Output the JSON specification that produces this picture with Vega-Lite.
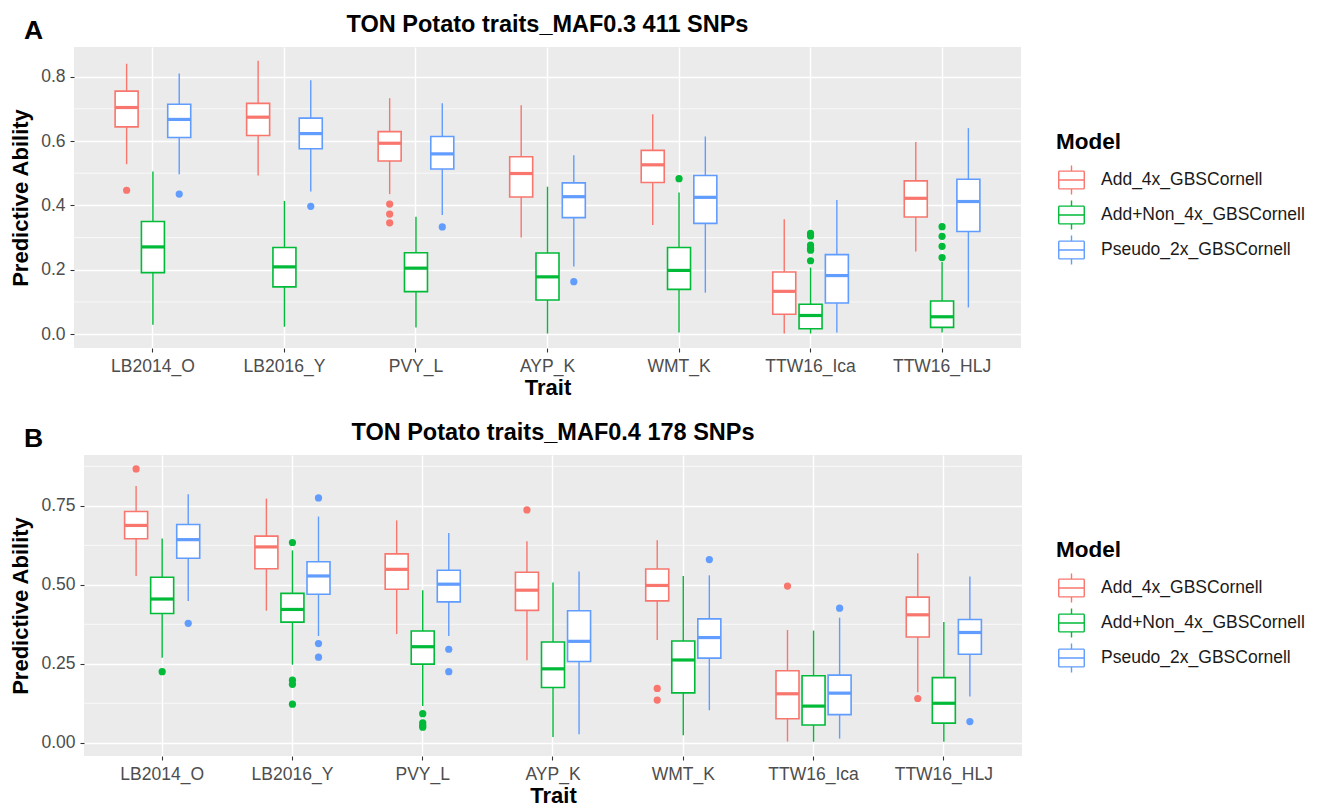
{
  "$schema": "https://vega.github.io/schema/vega-lite/v6.json",
  "padding": {"left": 8, "top": 12, "right": 5, "bottom": 2},
  "background": "white",
  "datasets": {
    "boxA": [
      {"t": "LB2014_O", "m": "Add_4x_GBSCornell", "lo": 0.528, "q1": 0.644, "med": 0.704, "q3": 0.755, "hi": 0.840},
      {"t": "LB2014_O", "m": "Add+Non_4x_GBSCornell", "lo": 0.029, "q1": 0.191, "med": 0.271, "q3": 0.350, "hi": 0.505},
      {"t": "LB2014_O", "m": "Pseudo_2x_GBSCornell", "lo": 0.497, "q1": 0.611, "med": 0.667, "q3": 0.714, "hi": 0.810},
      {"t": "LB2016_Y", "m": "Add_4x_GBSCornell", "lo": 0.493, "q1": 0.617, "med": 0.674, "q3": 0.717, "hi": 0.849},
      {"t": "LB2016_Y", "m": "Add+Non_4x_GBSCornell", "lo": 0.023, "q1": 0.147, "med": 0.209, "q3": 0.269, "hi": 0.414},
      {"t": "LB2016_Y", "m": "Pseudo_2x_GBSCornell", "lo": 0.443, "q1": 0.576, "med": 0.623, "q3": 0.671, "hi": 0.789},
      {"t": "PVY_L", "m": "Add_4x_GBSCornell", "lo": 0.435, "q1": 0.538, "med": 0.593, "q3": 0.629, "hi": 0.733},
      {"t": "PVY_L", "m": "Add+Non_4x_GBSCornell", "lo": 0.021, "q1": 0.132, "med": 0.205, "q3": 0.253, "hi": 0.365},
      {"t": "PVY_L", "m": "Pseudo_2x_GBSCornell", "lo": 0.370, "q1": 0.513, "med": 0.560, "q3": 0.614, "hi": 0.717},
      {"t": "AYP_K", "m": "Add_4x_GBSCornell", "lo": 0.300, "q1": 0.426, "med": 0.499, "q3": 0.551, "hi": 0.711},
      {"t": "AYP_K", "m": "Add+Non_4x_GBSCornell", "lo": 0.002, "q1": 0.106, "med": 0.178, "q3": 0.252, "hi": 0.458},
      {"t": "AYP_K", "m": "Pseudo_2x_GBSCornell", "lo": 0.210, "q1": 0.362, "med": 0.427, "q3": 0.470, "hi": 0.556},
      {"t": "WMT_K", "m": "Add_4x_GBSCornell", "lo": 0.339, "q1": 0.471, "med": 0.526, "q3": 0.571, "hi": 0.683},
      {"t": "WMT_K", "m": "Add+Non_4x_GBSCornell", "lo": 0.005, "q1": 0.139, "med": 0.198, "q3": 0.269, "hi": 0.440},
      {"t": "WMT_K", "m": "Pseudo_2x_GBSCornell", "lo": 0.129, "q1": 0.344, "med": 0.425, "q3": 0.493, "hi": 0.614},
      {"t": "TTW16_Ica", "m": "Add_4x_GBSCornell", "lo": 0.002, "q1": 0.062, "med": 0.133, "q3": 0.193, "hi": 0.357},
      {"t": "TTW16_Ica", "m": "Add+Non_4x_GBSCornell", "lo": 0.002, "q1": 0.017, "med": 0.058, "q3": 0.093, "hi": 0.207},
      {"t": "TTW16_Ica", "m": "Pseudo_2x_GBSCornell", "lo": 0.005, "q1": 0.097, "med": 0.182, "q3": 0.247, "hi": 0.417},
      {"t": "TTW16_HLJ", "m": "Add_4x_GBSCornell", "lo": 0.257, "q1": 0.364, "med": 0.422, "q3": 0.476, "hi": 0.597},
      {"t": "TTW16_HLJ", "m": "Add+Non_4x_GBSCornell", "lo": 0.005, "q1": 0.021, "med": 0.054, "q3": 0.103, "hi": 0.224},
      {"t": "TTW16_HLJ", "m": "Pseudo_2x_GBSCornell", "lo": 0.083, "q1": 0.319, "med": 0.412, "q3": 0.481, "hi": 0.640}
    ],
    "outA": [
      {"t": "LB2014_O", "m": "Add_4x_GBSCornell", "v": 0.447},
      {"t": "LB2014_O", "m": "Pseudo_2x_GBSCornell", "v": 0.435},
      {"t": "LB2016_Y", "m": "Pseudo_2x_GBSCornell", "v": 0.397},
      {"t": "PVY_L", "m": "Add_4x_GBSCornell", "v": 0.404},
      {"t": "PVY_L", "m": "Add_4x_GBSCornell", "v": 0.373},
      {"t": "PVY_L", "m": "Add_4x_GBSCornell", "v": 0.346},
      {"t": "PVY_L", "m": "Pseudo_2x_GBSCornell", "v": 0.333},
      {"t": "AYP_K", "m": "Pseudo_2x_GBSCornell", "v": 0.163},
      {"t": "WMT_K", "m": "Add+Non_4x_GBSCornell", "v": 0.483},
      {"t": "TTW16_Ica", "m": "Add+Non_4x_GBSCornell", "v": 0.313},
      {"t": "TTW16_Ica", "m": "Add+Non_4x_GBSCornell", "v": 0.305},
      {"t": "TTW16_Ica", "m": "Add+Non_4x_GBSCornell", "v": 0.277},
      {"t": "TTW16_Ica", "m": "Add+Non_4x_GBSCornell", "v": 0.267},
      {"t": "TTW16_Ica", "m": "Add+Non_4x_GBSCornell", "v": 0.261},
      {"t": "TTW16_Ica", "m": "Add+Non_4x_GBSCornell", "v": 0.228},
      {"t": "TTW16_HLJ", "m": "Add+Non_4x_GBSCornell", "v": 0.334},
      {"t": "TTW16_HLJ", "m": "Add+Non_4x_GBSCornell", "v": 0.304},
      {"t": "TTW16_HLJ", "m": "Add+Non_4x_GBSCornell", "v": 0.273},
      {"t": "TTW16_HLJ", "m": "Add+Non_4x_GBSCornell", "v": 0.238}
    ],
    "minorA": [{"g": 0.1}, {"g": 0.3}, {"g": 0.5}, {"g": 0.7}],
    "boxB": [
      {"t": "LB2014_O", "m": "Add_4x_GBSCornell", "lo": 0.528, "q1": 0.646, "med": 0.688, "q3": 0.732, "hi": 0.813},
      {"t": "LB2014_O", "m": "Add+Non_4x_GBSCornell", "lo": 0.269, "q1": 0.409, "med": 0.455, "q3": 0.524, "hi": 0.647},
      {"t": "LB2014_O", "m": "Pseudo_2x_GBSCornell", "lo": 0.449, "q1": 0.584, "med": 0.643, "q3": 0.691, "hi": 0.787},
      {"t": "LB2016_Y", "m": "Add_4x_GBSCornell", "lo": 0.418, "q1": 0.551, "med": 0.620, "q3": 0.654, "hi": 0.773},
      {"t": "LB2016_Y", "m": "Add+Non_4x_GBSCornell", "lo": 0.247, "q1": 0.382, "med": 0.422, "q3": 0.473, "hi": 0.609},
      {"t": "LB2016_Y", "m": "Pseudo_2x_GBSCornell", "lo": 0.338, "q1": 0.470, "med": 0.528, "q3": 0.573, "hi": 0.716},
      {"t": "PVY_L", "m": "Add_4x_GBSCornell", "lo": 0.344, "q1": 0.486, "med": 0.549, "q3": 0.598, "hi": 0.704},
      {"t": "PVY_L", "m": "Add+Non_4x_GBSCornell", "lo": 0.116, "q1": 0.249, "med": 0.304, "q3": 0.354, "hi": 0.483},
      {"t": "PVY_L", "m": "Pseudo_2x_GBSCornell", "lo": 0.338, "q1": 0.446, "med": 0.502, "q3": 0.546, "hi": 0.664},
      {"t": "AYP_K", "m": "Add_4x_GBSCornell", "lo": 0.261, "q1": 0.419, "med": 0.483, "q3": 0.540, "hi": 0.638},
      {"t": "AYP_K", "m": "Add+Non_4x_GBSCornell", "lo": 0.018, "q1": 0.175, "med": 0.234, "q3": 0.319, "hi": 0.507},
      {"t": "AYP_K", "m": "Pseudo_2x_GBSCornell", "lo": 0.027, "q1": 0.257, "med": 0.321, "q3": 0.418, "hi": 0.542},
      {"t": "WMT_K", "m": "Add_4x_GBSCornell", "lo": 0.325, "q1": 0.449, "med": 0.498, "q3": 0.550, "hi": 0.641},
      {"t": "WMT_K", "m": "Add+Non_4x_GBSCornell", "lo": 0.024, "q1": 0.158, "med": 0.262, "q3": 0.322, "hi": 0.528},
      {"t": "WMT_K", "m": "Pseudo_2x_GBSCornell", "lo": 0.103, "q1": 0.268, "med": 0.333, "q3": 0.392, "hi": 0.530},
      {"t": "TTW16_Ica", "m": "Add_4x_GBSCornell", "lo": 0.004, "q1": 0.076, "med": 0.155, "q3": 0.228, "hi": 0.357},
      {"t": "TTW16_Ica", "m": "Add+Non_4x_GBSCornell", "lo": 0.003, "q1": 0.056, "med": 0.116, "q3": 0.212, "hi": 0.355},
      {"t": "TTW16_Ica", "m": "Pseudo_2x_GBSCornell", "lo": 0.013, "q1": 0.089, "med": 0.157, "q3": 0.214, "hi": 0.396},
      {"t": "TTW16_HLJ", "m": "Add_4x_GBSCornell", "lo": 0.160, "q1": 0.335, "med": 0.405, "q3": 0.461, "hi": 0.600},
      {"t": "TTW16_HLJ", "m": "Add+Non_4x_GBSCornell", "lo": 0.003, "q1": 0.062, "med": 0.125, "q3": 0.206, "hi": 0.382},
      {"t": "TTW16_HLJ", "m": "Pseudo_2x_GBSCornell", "lo": 0.146, "q1": 0.280, "med": 0.349, "q3": 0.390, "hi": 0.526}
    ],
    "outB": [
      {"t": "LB2014_O", "m": "Add_4x_GBSCornell", "v": 0.867},
      {"t": "LB2014_O", "m": "Add+Non_4x_GBSCornell", "v": 0.225},
      {"t": "LB2014_O", "m": "Pseudo_2x_GBSCornell", "v": 0.378},
      {"t": "LB2016_Y", "m": "Add+Non_4x_GBSCornell", "v": 0.634},
      {"t": "LB2016_Y", "m": "Add+Non_4x_GBSCornell", "v": 0.198},
      {"t": "LB2016_Y", "m": "Add+Non_4x_GBSCornell", "v": 0.185},
      {"t": "LB2016_Y", "m": "Add+Non_4x_GBSCornell", "v": 0.122},
      {"t": "LB2016_Y", "m": "Pseudo_2x_GBSCornell", "v": 0.775},
      {"t": "LB2016_Y", "m": "Pseudo_2x_GBSCornell", "v": 0.314},
      {"t": "LB2016_Y", "m": "Pseudo_2x_GBSCornell", "v": 0.271},
      {"t": "PVY_L", "m": "Add+Non_4x_GBSCornell", "v": 0.092},
      {"t": "PVY_L", "m": "Add+Non_4x_GBSCornell", "v": 0.063},
      {"t": "PVY_L", "m": "Add+Non_4x_GBSCornell", "v": 0.055},
      {"t": "PVY_L", "m": "Add+Non_4x_GBSCornell", "v": 0.049},
      {"t": "PVY_L", "m": "Pseudo_2x_GBSCornell", "v": 0.296},
      {"t": "PVY_L", "m": "Pseudo_2x_GBSCornell", "v": 0.225},
      {"t": "AYP_K", "m": "Add_4x_GBSCornell", "v": 0.737},
      {"t": "WMT_K", "m": "Add_4x_GBSCornell", "v": 0.172},
      {"t": "WMT_K", "m": "Add_4x_GBSCornell", "v": 0.135},
      {"t": "WMT_K", "m": "Pseudo_2x_GBSCornell", "v": 0.580},
      {"t": "TTW16_Ica", "m": "Add_4x_GBSCornell", "v": 0.496},
      {"t": "TTW16_Ica", "m": "Pseudo_2x_GBSCornell", "v": 0.426},
      {"t": "TTW16_HLJ", "m": "Add_4x_GBSCornell", "v": 0.140},
      {"t": "TTW16_HLJ", "m": "Pseudo_2x_GBSCornell", "v": 0.067}
    ],
    "minorB": [{"g": 0.125}, {"g": 0.375}, {"g": 0.625}, {"g": 0.875}],
    "none": []
  },
  "vconcat": [
    {
      "title": {"text": "A", "anchor": "start", "frame": "bounds", "fontSize": 26.5, "offset": -32, "dx": 16},
      "spacing": 0,
      "hconcat": [
        {"width": 1, "height": 1, "view": {"fill": null, "stroke": null}, "data": {"name": "none"}, "mark": "point", "encoding": {}},
        {
          "width": 947,
          "height": 301,
          "title": {"text": "TON Potato traits_MAF0.3 411 SNPs", "frame": "group", "anchor": "middle", "offset": 11},
          "layer": [
            {
              "data": {"name": "minorA"},
              "mark": {"type": "rule", "color": "white", "strokeWidth": 0.7},
              "encoding": {
                "y": {"field": "g", "type": "quantitative", "scale": {"domain": [-0.043, 0.892], "nice": false, "zero": false}, "axis": {"title": "Predictive Ability", "values": [0, 0.2, 0.4, 0.6, 0.8], "format": ".1f", "grid": true}}
              }
            },
            {
              "data": {"name": "boxA"},
              "mark": {"type": "bar", "fill": "white", "size": 23},
              "encoding": {
                "x": {"field": "t", "type": "nominal", "sort": ["LB2014_O", "LB2016_Y", "PVY_L", "AYP_K", "WMT_K", "TTW16_Ica", "TTW16_HLJ"], "scale": {"paddingInner": 0.4, "paddingOuter": 0.3}, "axis": {"title": "Trait", "labelAngle": 0, "bandPosition": 0.5, "grid": true}},
                "xOffset": {"field": "m", "type": "nominal", "sort": ["Add_4x_GBSCornell", "Add+Non_4x_GBSCornell", "Pseudo_2x_GBSCornell"], "scale": {"paddingInner": 0, "paddingOuter": 0}},
                "y": {"field": "q1", "type": "quantitative", "scale": {"domain": [-0.043, 0.892], "nice": false, "zero": false}, "axis": {"title": "Predictive Ability", "values": [0, 0.2, 0.4, 0.6, 0.8], "format": ".1f", "grid": true}},
                "y2": {"field": "q3"}
              }
            },
            {
              "data": {"name": "boxA"},
              "mark": {"type": "bar", "filled": false, "strokeWidth": 1.6, "size": 23},
              "encoding": {
                "x": {"field": "t", "type": "nominal", "sort": ["LB2014_O", "LB2016_Y", "PVY_L", "AYP_K", "WMT_K", "TTW16_Ica", "TTW16_HLJ"], "scale": {"paddingInner": 0.4, "paddingOuter": 0.3}, "axis": {"title": "Trait", "labelAngle": 0, "bandPosition": 0.5, "grid": true}},
                "xOffset": {"field": "m", "type": "nominal", "sort": ["Add_4x_GBSCornell", "Add+Non_4x_GBSCornell", "Pseudo_2x_GBSCornell"], "scale": {"paddingInner": 0, "paddingOuter": 0}},
                "y": {"field": "q1", "type": "quantitative", "scale": {"domain": [-0.043, 0.892], "nice": false, "zero": false}, "axis": {"title": "Predictive Ability", "values": [0, 0.2, 0.4, 0.6, 0.8], "format": ".1f", "grid": true}},
                "y2": {"field": "q3"},
                "color": {"field": "m", "type": "nominal", "sort": ["Add_4x_GBSCornell", "Add+Non_4x_GBSCornell", "Pseudo_2x_GBSCornell"], "scale": {"domain": ["Add_4x_GBSCornell", "Add+Non_4x_GBSCornell", "Pseudo_2x_GBSCornell"], "range": ["#F8766D", "#00BA38", "#619CFF"]}, "legend": {"title": "Model", "orient": "none", "legendX": 1048, "legendY": 84}}
              }
            },
            {
              "data": {"name": "boxA"},
              "mark": {"type": "rule", "strokeWidth": 1.4},
              "encoding": {
                "x": {"field": "t", "type": "nominal", "sort": ["LB2014_O", "LB2016_Y", "PVY_L", "AYP_K", "WMT_K", "TTW16_Ica", "TTW16_HLJ"], "scale": {"paddingInner": 0.4, "paddingOuter": 0.3}, "axis": {"title": "Trait", "labelAngle": 0, "bandPosition": 0.5, "grid": true}},
                "xOffset": {"field": "m", "type": "nominal", "sort": ["Add_4x_GBSCornell", "Add+Non_4x_GBSCornell", "Pseudo_2x_GBSCornell"], "scale": {"paddingInner": 0, "paddingOuter": 0}},
                "y": {"field": "lo", "type": "quantitative", "scale": {"domain": [-0.043, 0.892], "nice": false, "zero": false}, "axis": {"title": "Predictive Ability", "values": [0, 0.2, 0.4, 0.6, 0.8], "format": ".1f", "grid": true}},
                "y2": {"field": "q1"},
                "color": {"field": "m", "type": "nominal", "sort": ["Add_4x_GBSCornell", "Add+Non_4x_GBSCornell", "Pseudo_2x_GBSCornell"], "scale": {"domain": ["Add_4x_GBSCornell", "Add+Non_4x_GBSCornell", "Pseudo_2x_GBSCornell"], "range": ["#F8766D", "#00BA38", "#619CFF"]}, "legend": null}
              }
            },
            {
              "data": {"name": "boxA"},
              "mark": {"type": "rule", "strokeWidth": 1.4},
              "encoding": {
                "x": {"field": "t", "type": "nominal", "sort": ["LB2014_O", "LB2016_Y", "PVY_L", "AYP_K", "WMT_K", "TTW16_Ica", "TTW16_HLJ"], "scale": {"paddingInner": 0.4, "paddingOuter": 0.3}, "axis": {"title": "Trait", "labelAngle": 0, "bandPosition": 0.5, "grid": true}},
                "xOffset": {"field": "m", "type": "nominal", "sort": ["Add_4x_GBSCornell", "Add+Non_4x_GBSCornell", "Pseudo_2x_GBSCornell"], "scale": {"paddingInner": 0, "paddingOuter": 0}},
                "y": {"field": "q3", "type": "quantitative", "scale": {"domain": [-0.043, 0.892], "nice": false, "zero": false}, "axis": {"title": "Predictive Ability", "values": [0, 0.2, 0.4, 0.6, 0.8], "format": ".1f", "grid": true}},
                "y2": {"field": "hi"},
                "color": {"field": "m", "type": "nominal", "sort": ["Add_4x_GBSCornell", "Add+Non_4x_GBSCornell", "Pseudo_2x_GBSCornell"], "scale": {"domain": ["Add_4x_GBSCornell", "Add+Non_4x_GBSCornell", "Pseudo_2x_GBSCornell"], "range": ["#F8766D", "#00BA38", "#619CFF"]}, "legend": null}
              }
            },
            {
              "data": {"name": "boxA"},
              "mark": {"type": "tick", "thickness": 3.2, "size": 23, "orient": "horizontal", "opacity": 1},
              "encoding": {
                "x": {"field": "t", "type": "nominal", "sort": ["LB2014_O", "LB2016_Y", "PVY_L", "AYP_K", "WMT_K", "TTW16_Ica", "TTW16_HLJ"], "scale": {"paddingInner": 0.4, "paddingOuter": 0.3}, "axis": {"title": "Trait", "labelAngle": 0, "bandPosition": 0.5, "grid": true}},
                "xOffset": {"field": "m", "type": "nominal", "sort": ["Add_4x_GBSCornell", "Add+Non_4x_GBSCornell", "Pseudo_2x_GBSCornell"], "scale": {"paddingInner": 0, "paddingOuter": 0}},
                "y": {"field": "med", "type": "quantitative", "scale": {"domain": [-0.043, 0.892], "nice": false, "zero": false}, "axis": {"title": "Predictive Ability", "values": [0, 0.2, 0.4, 0.6, 0.8], "format": ".1f", "grid": true}},
                "color": {"field": "m", "type": "nominal", "sort": ["Add_4x_GBSCornell", "Add+Non_4x_GBSCornell", "Pseudo_2x_GBSCornell"], "scale": {"domain": ["Add_4x_GBSCornell", "Add+Non_4x_GBSCornell", "Pseudo_2x_GBSCornell"], "range": ["#F8766D", "#00BA38", "#619CFF"]}, "legend": null}
              }
            },
            {
              "data": {"name": "outA"},
              "mark": {"type": "circle", "size": 52, "opacity": 1},
              "encoding": {
                "x": {"field": "t", "type": "nominal", "sort": ["LB2014_O", "LB2016_Y", "PVY_L", "AYP_K", "WMT_K", "TTW16_Ica", "TTW16_HLJ"], "scale": {"paddingInner": 0.4, "paddingOuter": 0.3}, "axis": {"title": "Trait", "labelAngle": 0, "bandPosition": 0.5, "grid": true}},
                "xOffset": {"field": "m", "type": "nominal", "sort": ["Add_4x_GBSCornell", "Add+Non_4x_GBSCornell", "Pseudo_2x_GBSCornell"], "scale": {"paddingInner": 0, "paddingOuter": 0}},
                "y": {"field": "v", "type": "quantitative", "scale": {"domain": [-0.043, 0.892], "nice": false, "zero": false}, "axis": {"title": "Predictive Ability", "values": [0, 0.2, 0.4, 0.6, 0.8], "format": ".1f", "grid": true}},
                "color": {"field": "m", "type": "nominal", "sort": ["Add_4x_GBSCornell", "Add+Non_4x_GBSCornell", "Pseudo_2x_GBSCornell"], "scale": {"domain": ["Add_4x_GBSCornell", "Add+Non_4x_GBSCornell", "Pseudo_2x_GBSCornell"], "range": ["#F8766D", "#00BA38", "#619CFF"]}, "legend": null}
              }
            }
          ]
        }
      ]
    },
    {
      "title": {"text": "B", "anchor": "start", "frame": "bounds", "fontSize": 26.5, "offset": -32, "dx": 16},
      "spacing": 0,
      "hconcat": [
        {"width": 1, "height": 1, "view": {"fill": null, "stroke": null}, "data": {"name": "none"}, "mark": "point", "encoding": {}},
        {
          "width": 938,
          "height": 301,
          "title": {"text": "TON Potato traits_MAF0.4 178 SNPs", "frame": "group", "anchor": "middle", "offset": 11},
          "layer": [
            {
              "data": {"name": "minorB"},
              "mark": {"type": "rule", "color": "white", "strokeWidth": 0.7},
              "encoding": {
                "y": {"field": "g", "type": "quantitative", "scale": {"domain": [-0.042, 0.911], "nice": false, "zero": false}, "axis": {"title": "Predictive Ability", "values": [0, 0.25, 0.5, 0.75], "format": ".2f", "grid": true}}
              }
            },
            {
              "data": {"name": "boxB"},
              "mark": {"type": "bar", "fill": "white", "size": 23},
              "encoding": {
                "x": {"field": "t", "type": "nominal", "sort": ["LB2014_O", "LB2016_Y", "PVY_L", "AYP_K", "WMT_K", "TTW16_Ica", "TTW16_HLJ"], "scale": {"paddingInner": 0.4, "paddingOuter": 0.3}, "axis": {"title": "Trait", "labelAngle": 0, "bandPosition": 0.5, "grid": true}},
                "xOffset": {"field": "m", "type": "nominal", "sort": ["Add_4x_GBSCornell", "Add+Non_4x_GBSCornell", "Pseudo_2x_GBSCornell"], "scale": {"paddingInner": 0, "paddingOuter": 0}},
                "y": {"field": "q1", "type": "quantitative", "scale": {"domain": [-0.042, 0.911], "nice": false, "zero": false}, "axis": {"title": "Predictive Ability", "values": [0, 0.25, 0.5, 0.75], "format": ".2f", "grid": true}},
                "y2": {"field": "q3"}
              }
            },
            {
              "data": {"name": "boxB"},
              "mark": {"type": "bar", "filled": false, "strokeWidth": 1.6, "size": 23},
              "encoding": {
                "x": {"field": "t", "type": "nominal", "sort": ["LB2014_O", "LB2016_Y", "PVY_L", "AYP_K", "WMT_K", "TTW16_Ica", "TTW16_HLJ"], "scale": {"paddingInner": 0.4, "paddingOuter": 0.3}, "axis": {"title": "Trait", "labelAngle": 0, "bandPosition": 0.5, "grid": true}},
                "xOffset": {"field": "m", "type": "nominal", "sort": ["Add_4x_GBSCornell", "Add+Non_4x_GBSCornell", "Pseudo_2x_GBSCornell"], "scale": {"paddingInner": 0, "paddingOuter": 0}},
                "y": {"field": "q1", "type": "quantitative", "scale": {"domain": [-0.042, 0.911], "nice": false, "zero": false}, "axis": {"title": "Predictive Ability", "values": [0, 0.25, 0.5, 0.75], "format": ".2f", "grid": true}},
                "y2": {"field": "q3"},
                "color": {"field": "m", "type": "nominal", "sort": ["Add_4x_GBSCornell", "Add+Non_4x_GBSCornell", "Pseudo_2x_GBSCornell"], "scale": {"domain": ["Add_4x_GBSCornell", "Add+Non_4x_GBSCornell", "Pseudo_2x_GBSCornell"], "range": ["#F8766D", "#00BA38", "#619CFF"]}, "legend": {"title": "Model", "orient": "none", "legendX": 1048, "legendY": 84}}
              }
            },
            {
              "data": {"name": "boxB"},
              "mark": {"type": "rule", "strokeWidth": 1.4},
              "encoding": {
                "x": {"field": "t", "type": "nominal", "sort": ["LB2014_O", "LB2016_Y", "PVY_L", "AYP_K", "WMT_K", "TTW16_Ica", "TTW16_HLJ"], "scale": {"paddingInner": 0.4, "paddingOuter": 0.3}, "axis": {"title": "Trait", "labelAngle": 0, "bandPosition": 0.5, "grid": true}},
                "xOffset": {"field": "m", "type": "nominal", "sort": ["Add_4x_GBSCornell", "Add+Non_4x_GBSCornell", "Pseudo_2x_GBSCornell"], "scale": {"paddingInner": 0, "paddingOuter": 0}},
                "y": {"field": "lo", "type": "quantitative", "scale": {"domain": [-0.042, 0.911], "nice": false, "zero": false}, "axis": {"title": "Predictive Ability", "values": [0, 0.25, 0.5, 0.75], "format": ".2f", "grid": true}},
                "y2": {"field": "q1"},
                "color": {"field": "m", "type": "nominal", "sort": ["Add_4x_GBSCornell", "Add+Non_4x_GBSCornell", "Pseudo_2x_GBSCornell"], "scale": {"domain": ["Add_4x_GBSCornell", "Add+Non_4x_GBSCornell", "Pseudo_2x_GBSCornell"], "range": ["#F8766D", "#00BA38", "#619CFF"]}, "legend": null}
              }
            },
            {
              "data": {"name": "boxB"},
              "mark": {"type": "rule", "strokeWidth": 1.4},
              "encoding": {
                "x": {"field": "t", "type": "nominal", "sort": ["LB2014_O", "LB2016_Y", "PVY_L", "AYP_K", "WMT_K", "TTW16_Ica", "TTW16_HLJ"], "scale": {"paddingInner": 0.4, "paddingOuter": 0.3}, "axis": {"title": "Trait", "labelAngle": 0, "bandPosition": 0.5, "grid": true}},
                "xOffset": {"field": "m", "type": "nominal", "sort": ["Add_4x_GBSCornell", "Add+Non_4x_GBSCornell", "Pseudo_2x_GBSCornell"], "scale": {"paddingInner": 0, "paddingOuter": 0}},
                "y": {"field": "q3", "type": "quantitative", "scale": {"domain": [-0.042, 0.911], "nice": false, "zero": false}, "axis": {"title": "Predictive Ability", "values": [0, 0.25, 0.5, 0.75], "format": ".2f", "grid": true}},
                "y2": {"field": "hi"},
                "color": {"field": "m", "type": "nominal", "sort": ["Add_4x_GBSCornell", "Add+Non_4x_GBSCornell", "Pseudo_2x_GBSCornell"], "scale": {"domain": ["Add_4x_GBSCornell", "Add+Non_4x_GBSCornell", "Pseudo_2x_GBSCornell"], "range": ["#F8766D", "#00BA38", "#619CFF"]}, "legend": null}
              }
            },
            {
              "data": {"name": "boxB"},
              "mark": {"type": "tick", "thickness": 3.2, "size": 23, "orient": "horizontal", "opacity": 1},
              "encoding": {
                "x": {"field": "t", "type": "nominal", "sort": ["LB2014_O", "LB2016_Y", "PVY_L", "AYP_K", "WMT_K", "TTW16_Ica", "TTW16_HLJ"], "scale": {"paddingInner": 0.4, "paddingOuter": 0.3}, "axis": {"title": "Trait", "labelAngle": 0, "bandPosition": 0.5, "grid": true}},
                "xOffset": {"field": "m", "type": "nominal", "sort": ["Add_4x_GBSCornell", "Add+Non_4x_GBSCornell", "Pseudo_2x_GBSCornell"], "scale": {"paddingInner": 0, "paddingOuter": 0}},
                "y": {"field": "med", "type": "quantitative", "scale": {"domain": [-0.042, 0.911], "nice": false, "zero": false}, "axis": {"title": "Predictive Ability", "values": [0, 0.25, 0.5, 0.75], "format": ".2f", "grid": true}},
                "color": {"field": "m", "type": "nominal", "sort": ["Add_4x_GBSCornell", "Add+Non_4x_GBSCornell", "Pseudo_2x_GBSCornell"], "scale": {"domain": ["Add_4x_GBSCornell", "Add+Non_4x_GBSCornell", "Pseudo_2x_GBSCornell"], "range": ["#F8766D", "#00BA38", "#619CFF"]}, "legend": null}
              }
            },
            {
              "data": {"name": "outB"},
              "mark": {"type": "circle", "size": 52, "opacity": 1},
              "encoding": {
                "x": {"field": "t", "type": "nominal", "sort": ["LB2014_O", "LB2016_Y", "PVY_L", "AYP_K", "WMT_K", "TTW16_Ica", "TTW16_HLJ"], "scale": {"paddingInner": 0.4, "paddingOuter": 0.3}, "axis": {"title": "Trait", "labelAngle": 0, "bandPosition": 0.5, "grid": true}},
                "xOffset": {"field": "m", "type": "nominal", "sort": ["Add_4x_GBSCornell", "Add+Non_4x_GBSCornell", "Pseudo_2x_GBSCornell"], "scale": {"paddingInner": 0, "paddingOuter": 0}},
                "y": {"field": "v", "type": "quantitative", "scale": {"domain": [-0.042, 0.911], "nice": false, "zero": false}, "axis": {"title": "Predictive Ability", "values": [0, 0.25, 0.5, 0.75], "format": ".2f", "grid": true}},
                "color": {"field": "m", "type": "nominal", "sort": ["Add_4x_GBSCornell", "Add+Non_4x_GBSCornell", "Pseudo_2x_GBSCornell"], "scale": {"domain": ["Add_4x_GBSCornell", "Add+Non_4x_GBSCornell", "Pseudo_2x_GBSCornell"], "range": ["#F8766D", "#00BA38", "#619CFF"]}, "legend": null}
              }
            }
          ]
        }
      ]
    }
  ],
  "spacing": 21,
  "resolve": {"scale": {"color": "independent", "x": "independent", "y": "independent", "xOffset": "independent"}, "legend": {"color": "independent"}},
  "config": {
    "font": "Liberation Sans",
    "view": {"fill": "#EBEBEB", "stroke": null},
    "axis": {"domain": false, "grid": true, "gridColor": "white", "gridWidth": 1.4, "tickColor": "#333333", "tickSize": 4, "tickWidth": 1.1, "labelFont": "Liberation Sans", "labelFontSize": 17.5, "labelColor": "#4D4D4D", "labelPadding": 5, "titleFont": "Liberation Sans", "titleFontSize": 22, "titleFontWeight": "bold", "titleColor": "black"},
    "axisY": {"titlePadding": 8},
    "axisX": {"titlePadding": 3},
    "title": {"font": "Liberation Sans", "fontSize": 23.5, "fontWeight": "bold", "color": "black"},
    "legend": {"padding": 0, "titleFont": "Liberation Sans", "titleFontSize": 22.5, "titleFontWeight": "bold", "titleColor": "black", "titlePadding": 11, "labelFont": "Liberation Sans", "labelFontSize": 17.5, "labelColor": "#1A1A1A", "labelOffset": 14, "labelLimit": 0, "rowPadding": 0, "symbolType": "M0,-1L0,-0.61M-0.88,-0.61L0.88,-0.61M0.88,-0.61L0.88,0.61M0.88,0.61L-0.88,0.61M-0.88,0.61L-0.88,-0.61M-0.88,0L0.88,0M0,0.61L0,1", "symbolSize": 841, "symbolStrokeWidth": 1.4, "symbolFillColor": "white"}
  }
}
